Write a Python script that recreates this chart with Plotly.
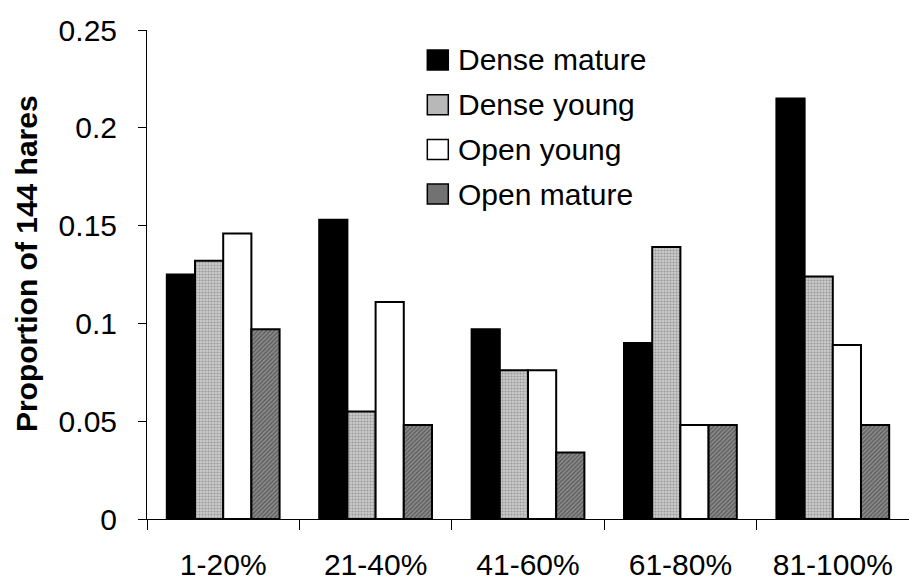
import plotly.graph_objects as go

categories = ["1-20%", "21-40%", "41-60%", "61-80%", "81-100%"]
series_names = ["Dense mature", "Dense young", "Open young", "Open mature"]
dense_mature = [0.125, 0.153, 0.097, 0.090, 0.215]
dense_young = [0.132, 0.055, 0.076, 0.139, 0.124]
open_young = [0.146, 0.111, 0.076, 0.048, 0.089]
open_mature = [0.097, 0.048, 0.034, 0.048, 0.048]
y_ticks = [0, 0.05, 0.1, 0.15, 0.2, 0.25]

series_values = [dense_mature, dense_young, open_young, open_mature]
fills = ["#000000", "#cacaca", "#ffffff", "#8e8e8e"]
patterns = [
    dict(shape=""),
    dict(shape=".", fgcolor="#6a6a6a", size=3, solidity=0.4),
    dict(shape=""),
    dict(shape="/", fgcolor="#2e2e2e", size=3, solidity=0.5),
]
legend_fills = ["#000000", "#b8b8b8", "#ffffff", "#727272"]

FONT = "Liberation Sans, Arial, sans-serif"

fig = go.Figure()
for name, vals, col, pat in zip(series_names, series_values, fills, patterns):
    fig.add_trace(go.Bar(
        x=categories, y=vals, name=name, showlegend=False,
        marker=dict(color=col, pattern=pat, line=dict(color="#000000", width=2)),
    ))

W, H = 909, 584
ml, mr, mt, mb = 146.5, 0, 30, 65

shapes = []
annotations = []
leg_x0 = 427
leg_y0 = 60
leg_dy = 44.7
for i, (name, col) in enumerate(zip(series_names, legend_fills)):
    yc = leg_y0 + i * leg_dy
    shapes.append(dict(
        type="rect", xref="paper", yref="paper",
        x0=(leg_x0 - ml) / (W - ml - mr), x1=(leg_x0 + 21 - ml) / (W - ml - mr),
        y0=1 - (yc - 10 - mt) / (H - mt - mb), y1=1 - (yc + 10 - mt) / (H - mt - mb),
        fillcolor=col, line=dict(color="#000000", width=1.5),
    ))
    annotations.append(dict(
        text=name, xref="paper", yref="paper",
        x=(leg_x0 + 29 - ml) / (W - ml - mr), y=1 - (yc - mt) / (H - mt - mb),
        xanchor="left", yanchor="middle", showarrow=False,
        font=dict(family=FONT, size=30, color="#000000"),
    ))

annotations.append(dict(
    text="<b>Proportion of 144 hares</b>", xref="paper", yref="paper",
    x=(26 - ml) / (W - ml - mr), y=1 - (263.5 - mt) / (H - mt - mb),
    xanchor="center", yanchor="middle", textangle=-90, showarrow=False,
    font=dict(family=FONT, size=30, color="#000000"),
))

fig.update_layout(
    width=W, height=H,
    margin=dict(l=ml, r=mr, t=mt, b=mb, pad=0),
    paper_bgcolor="#ffffff", plot_bgcolor="#ffffff",
    barmode="group", bargap=0.26, bargroupgap=0,
    font=dict(family=FONT, size=30, color="#000000"),
    shapes=shapes, annotations=annotations,
    xaxis=dict(
        showline=True, linecolor="#000000", linewidth=1,
        ticks="outside", ticklen=10, tickcolor="#000000", tickwidth=1,
        tickson="boundaries", showgrid=False, zeroline=False,
        tickfont=dict(family=FONT, size=30), ticklabelstandoff=19,
    ),
    yaxis=dict(
        range=[0, 0.25], tickvals=y_ticks,
        ticktext=["0", "0.05", "0.1", "0.15", "0.2", "0.25"],
        showline=True, linecolor="#000000", linewidth=1,
        ticks="outside", ticklen=8, tickcolor="#000000", tickwidth=1,
        showgrid=False, zeroline=False,
        tickfont=dict(family=FONT, size=30), ticklabelstandoff=15,
    ),
)

fig.write_html("out.html")
